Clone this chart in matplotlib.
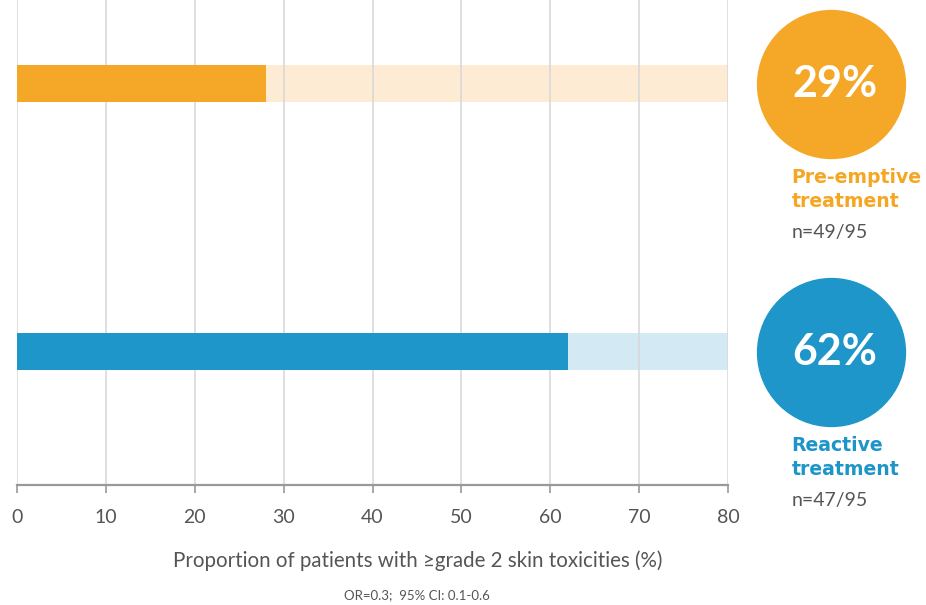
import matplotlib
matplotlib.use("Agg")
import matplotlib.pyplot as plt
import matplotlib.transforms as mtransforms

plt.rcParams['font.family'] = ['Lato', 'DejaVu Sans']

# data
groups = ['Pre-emptive\ntreatment', 'Reactive\ntreatment']
bar_values = [28, 62]
pct_labels = ['29%', '62%']
n_labels = ['n=49/95', 'n=47/95']
x_ticks = [0, 10, 20, 30, 40, 50, 60, 70, 80]
x_max = 80

dark = ['#F5A828', '#1E96C9']
light = ['#FDEBD4', '#D3E9F4']
text_col = ['#F5A623', '#1E95C9']
grey = '#555555'

fig = plt.figure(figsize=(9.26, 6.05), dpi=100)
ax = fig.add_axes([17 / 926, 120 / 605, 711 / 926, 485 / 605])

pos = list(range(len(groups)))
# background full-length bars, then grid, then value bars
ax.barh(pos, [x_max] * len(pos), height=0.138, color=light, zorder=1)
ax.barh(pos, bar_values, height=0.138, color=dark, zorder=2)

ax.set_xlim(0, x_max)
ax.set_ylim(1.498, -0.312)
ax.set_xticks(x_ticks)
ax.set_yticks([])
ax.set_axisbelow('line')
ax.grid(axis='x', color='#D9D9D9', lw=1.2)
for s in ['top', 'right', 'left']:
    ax.spines[s].set_visible(False)
ax.spines['bottom'].set_color('#999999')
ax.spines['bottom'].set_linewidth(1.6)
ax.tick_params(axis='x', length=6, width=1.2, color='#999999',
               labelsize=14, labelcolor=grey, pad=11)

ax.set_xlabel('Proportion of patients with \u2265grade 2 skin toxicities (%)',
              fontsize=14.8, color=grey)
ax.xaxis.set_label_coords(0.563, -0.135)

fig.text(417 / 926, 10 / 605, 'OR=0.3;  95% CI: 0.1-0.6', fontsize=9.5,
         color=grey, ha='center', va='center')

# circles and labels on the right, aligned to the bars
trans = mtransforms.blended_transform_factory(ax.transAxes, ax.transData)
for i in pos:
    ax.scatter([1.145], [i], s=107.5 ** 2, color=dark[i], transform=trans,
               clip_on=False, zorder=3, linewidths=0)
    ax.text(1.150, i, pct_labels[i], transform=trans, ha='center',
            va='center', color='white', fontsize=31, fontweight='bold',
            zorder=4)
    ax.annotate(groups[i], xy=(1.089, i), xycoords=trans,
                xytext=(0, -61), textcoords='offset points', va='top',
                ha='left', color=text_col[i], fontsize=13.6,
                fontweight='bold', family='DejaVu Sans',
                linespacing=1.3, annotation_clip=False)
    ax.annotate(n_labels[i], xy=(1.090, i), xycoords=trans,
                xytext=(0, -111), textcoords='offset points',
                va='baseline', ha='left', color=grey, fontsize=14,
                annotation_clip=False)

fig.savefig('out.png', dpi=100)
